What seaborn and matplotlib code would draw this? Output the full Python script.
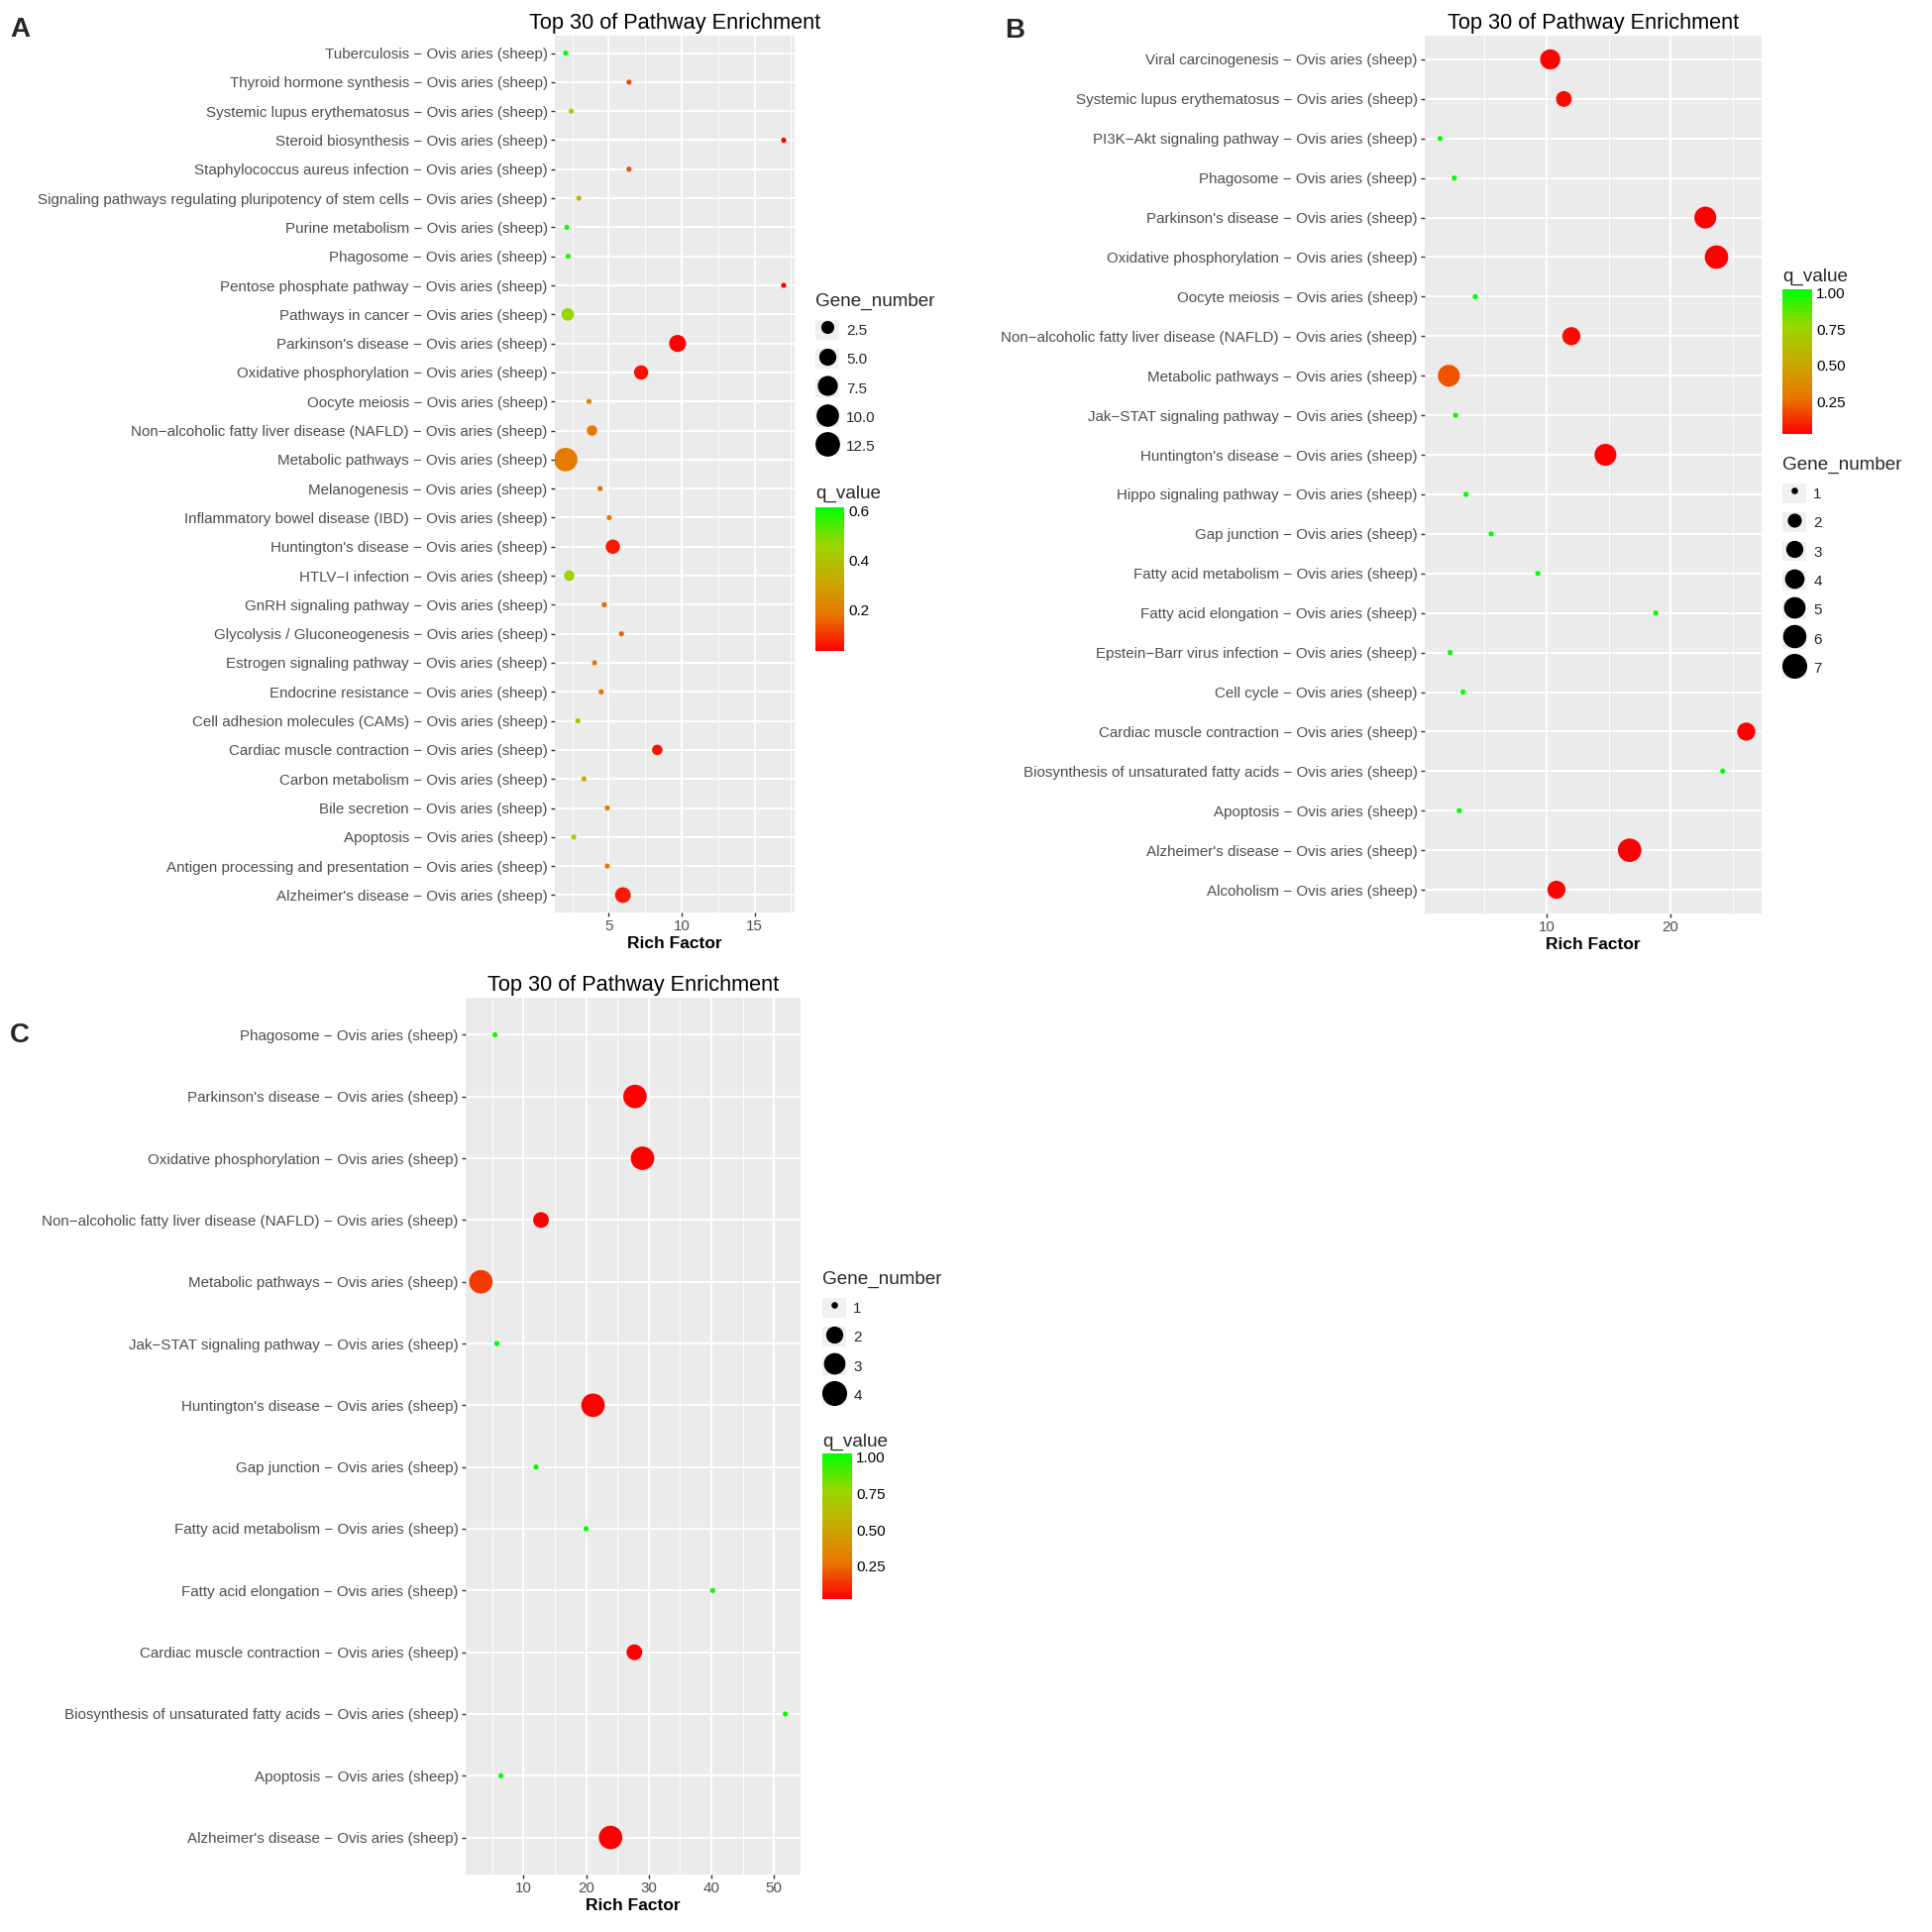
import numpy as np
import pandas as pd
import seaborn as sns
import matplotlib
matplotlib.use('Agg')
import matplotlib.pyplot as plt
from matplotlib.colors import LinearSegmentedColormap, Normalize
from matplotlib.cm import ScalarMappable
from matplotlib.lines import Line2D
from matplotlib.patches import Patch
from matplotlib.legend_handler import HandlerTuple
from matplotlib.ticker import MultipleLocator

SPECIES = ' − Ovis aries (sheep)'
TITLE = 'Top 30 of Pathway Enrichment'

# ---- panel A (rows listed top to bottom) ----
a_pathways = ['Tuberculosis', 'Thyroid hormone synthesis', 'Systemic lupus erythematosus',
              'Steroid biosynthesis', 'Staphylococcus aureus infection',
              'Signaling pathways regulating pluripotency of stem cells', 'Purine metabolism',
              'Phagosome', 'Pentose phosphate pathway', 'Pathways in cancer',
              "Parkinson's disease", 'Oxidative phosphorylation', 'Oocyte meiosis',
              'Non−alcoholic fatty liver disease (NAFLD)', 'Metabolic pathways', 'Melanogenesis',
              'Inflammatory bowel disease (IBD)', "Huntington's disease", 'HTLV−I infection',
              'GnRH signaling pathway', 'Glycolysis / Gluconeogenesis', 'Estrogen signaling pathway',
              'Endocrine resistance', 'Cell adhesion molecules (CAMs)', 'Cardiac muscle contraction',
              'Carbon metabolism', 'Bile secretion', 'Apoptosis',
              'Antigen processing and presentation', "Alzheimer's disease"]
a_rich_factor = [2.05, 6.39, 2.43, 17.0, 6.39, 2.95, 2.12, 2.22, 17.0, 2.19,
                 9.72, 7.22, 3.65, 3.85, 2.05, 4.41, 5.03, 5.28, 2.29, 4.69,
                 5.87, 4.03, 4.48, 2.88, 8.33, 3.30, 4.90, 2.60, 4.90, 5.97]
a_gene_number = [1, 1, 1, 1, 1, 1, 1, 1, 1, 3,
                 6, 4, 1, 2, 13, 1, 1, 4, 2, 1,
                 1, 1, 1, 1, 2, 1, 1, 1, 1, 5]
a_q_value = [0.60, 0.14, 0.47, 0.05, 0.14, 0.36, 0.58, 0.57, 0.05, 0.46,
             0.05, 0.07, 0.22, 0.19, 0.20, 0.18, 0.19, 0.08, 0.45, 0.17,
             0.16, 0.19, 0.18, 0.40, 0.07, 0.32, 0.19, 0.45, 0.19, 0.08]
a_size_breaks = [2.5, 5.0, 7.5, 10.0, 12.5]
a_q_ticks = [0.2, 0.4, 0.6]

# ---- panel B ----
b_pathways = ['Viral carcinogenesis', 'Systemic lupus erythematosus', 'PI3K−Akt signaling pathway',
              'Phagosome', "Parkinson's disease", 'Oxidative phosphorylation', 'Oocyte meiosis',
              'Non−alcoholic fatty liver disease (NAFLD)', 'Metabolic pathways',
              'Jak−STAT signaling pathway', "Huntington's disease", 'Hippo signaling pathway',
              'Gap junction', 'Fatty acid metabolism', 'Fatty acid elongation',
              'Epstein−Barr virus infection', 'Cell cycle', 'Cardiac muscle contraction',
              'Biosynthesis of unsaturated fatty acids', 'Apoptosis', "Alzheimer's disease",
              'Alcoholism']
b_rich_factor = [10.3, 11.4, 1.42, 2.57, 22.8, 23.7, 4.26, 12.0, 2.13, 2.67, 14.75,
                 3.51, 5.54, 9.3, 18.8, 2.23, 3.27, 26.1, 24.2, 2.97, 16.7, 10.8]
b_gene_number = [5, 3, 1, 1, 6, 7, 1, 4, 6, 1, 6,
                 1, 1, 1, 1, 1, 1, 4, 1, 1, 7, 4]
b_q_value = [0.06, 0.07, 1.0, 1.0, 0.05, 0.05, 1.0, 0.07, 0.22, 1.0, 0.05,
             1.0, 1.0, 1.0, 1.0, 1.0, 1.0, 0.06, 1.0, 1.0, 0.05, 0.06]
b_size_breaks = [1, 2, 3, 4, 5, 6, 7]
b_q_ticks = [0.25, 0.50, 0.75, 1.00]

# ---- panel C ----
c_pathways = ['Phagosome', "Parkinson's disease", 'Oxidative phosphorylation',
              'Non−alcoholic fatty liver disease (NAFLD)', 'Metabolic pathways',
              'Jak−STAT signaling pathway', "Huntington's disease", 'Gap junction',
              'Fatty acid metabolism', 'Fatty acid elongation', 'Cardiac muscle contraction',
              'Biosynthesis of unsaturated fatty acids', 'Apoptosis', "Alzheimer's disease"]
c_rich_factor = [5.45, 27.8, 29.0, 12.8, 3.2, 5.74, 21.1, 12.0, 20.0, 40.2, 27.7, 51.8, 6.4, 23.9]
c_gene_number = [1, 4, 4, 2, 4, 1, 4, 1, 1, 1, 2, 1, 1, 4]
c_q_value = [1.0, 0.05, 0.05, 0.05, 0.17, 1.0, 0.05, 1.0, 1.0, 1.0, 0.05, 1.0, 1.0, 0.05]
c_size_breaks = [1, 2, 3, 4]
c_q_ticks = [0.25, 0.50, 0.75, 1.00]

sns.set_theme(style='darkgrid', rc={'axes.facecolor': '#EBEBEB', 'grid.color': 'white'})
plt.rcParams['font.family'] = ['Liberation Sans', 'DejaVu Sans']

W = H = 1950
fig = plt.figure(figsize=(W / 100, H / 100), dpi=100)


def box(left, top, right, bottom):
    return [left / W, 1 - bottom / H, (right - left) / W, (bottom - top) / H]


# red -> green gradient like ggplot's scale_colour_gradient (Lab stops)
cmap = LinearSegmentedColormap.from_list('q', ['#FF0000', '#E87600', '#C8AB00', '#98D700', '#00FF00'])


def dot_size(v, lo, hi):
    # diameter in points, area scaled like ggplot scale_size
    t = (np.asarray(v, float) - lo) / (hi - lo)
    px = 1.5 + 3.7 * (1 + 5 * np.sqrt(t))
    return px * 0.72


def panel(rect, names, rich, genes, qval, major, minor):
    ax = fig.add_axes(box(*rect))
    df = pd.DataFrame({'pathway': [n + SPECIES for n in names], 'rich': rich,
                       'genes': genes, 'q': qval})
    glo, ghi = min(genes), max(genes)
    sizes = {g: float(dot_size(g, glo, ghi)) ** 2 for g in sorted(set(genes))}
    sns.scatterplot(data=df, x='rich', y='pathway', hue='q', size='genes', palette=cmap,
                    hue_norm=(min(qval), max(qval)), sizes=sizes, linewidth=0,
                    legend=False, ax=ax, zorder=3)
    pad = 0.05 * (max(rich) - min(rich))
    ax.set_xlim(min(rich) - pad, max(rich) + pad)
    ax.set_ylim(len(names) - 0.4, -0.6)
    ax.xaxis.set_major_locator(MultipleLocator(major))
    ax.xaxis.set_minor_locator(MultipleLocator(minor))
    ax.grid(which='major', color='white', lw=1.4)
    ax.grid(which='minor', axis='x', color='white', lw=0.7)
    ax.set_axisbelow(True)
    for s in ax.spines.values():
        s.set_visible(False)
    ax.tick_params(which='major', bottom=True, left=True, length=2.75, width=1.0,
                   color='#333333', labelcolor='#4D4D4D', labelsize=10.9, pad=2.5)
    ax.tick_params(which='minor', length=0)
    ax.set_ylabel('')
    ax.set_xlabel('Rich Factor', fontsize=12.5, fontweight='bold', color='black', labelpad=2)
    ax.set_title(TITLE, fontsize=15.7, color='black', pad=5)
    return ax


def size_legend(x, y, breaks, genes, fmt):
    lo, hi = min(genes), max(genes)
    handles = [(Patch(facecolor='#F0F0F0', edgecolor='none'),
                Line2D([], [], ls='', marker='o', color='black',
                       markersize=float(dot_size(b, lo, hi))))
               for b in breaks]
    labels = [fmt.format(b) for b in breaks]
    fig.legend(handles, labels, title='Gene_number', loc='upper left',
               bbox_to_anchor=(x / W, 1 - y / H), frameon=False,
               handler_map={tuple: HandlerTuple(ndivide=1, pad=0)},
               handlelength=1.6, handleheight=1.6, labelspacing=0.64, handletextpad=0.45,
               borderpad=0, borderaxespad=0, fontsize=11, title_fontsize=13.6,
               alignment='left')


def q_colorbar(rect, qval, ticks, fmt, title_y):
    cax = fig.add_axes(box(*rect))
    lo, hi = min(qval), max(qval)
    m = (hi - lo) / 38
    sm = ScalarMappable(norm=Normalize(lo - m, hi + m), cmap=cmap)
    cb = fig.colorbar(sm, cax=cax, ticks=ticks)
    cb.outline.set_visible(False)
    cax.grid(False)
    cax.set_yticklabels([fmt.format(t) for t in ticks])
    cax.tick_params(axis='y', direction='in', color='white', length=6, width=1,
                    left=True, right=True, labelleft=False, labelright=True,
                    labelsize=11, labelcolor='black', pad=3)
    fig.text(rect[0] / W, 1 - title_y / H, 'q_value', fontsize=13.6, ha='left', va='center')


# panel A
panel((560, 36, 802, 921), a_pathways, a_rich_factor, a_gene_number, a_q_value, 5, 2.5)
size_legend(823, 296, a_size_breaks, a_gene_number, '{:.1f}')
q_colorbar((823, 512, 852, 657), a_q_value, a_q_ticks, '{:.1f}', 498)

# panel B
panel((1438, 36, 1778, 922), b_pathways, b_rich_factor, b_gene_number, b_q_value, 10, 5)
size_legend(1799, 461, b_size_breaks, b_gene_number, '{:d}')
q_colorbar((1799, 292, 1829, 438), b_q_value, b_q_ticks, '{:.2f}', 279)

# panel C
panel((470, 1007, 808, 1892), c_pathways, c_rich_factor, c_gene_number, c_q_value, 10, 5)
size_legend(830, 1283, c_size_breaks, c_gene_number, '{:d}')
q_colorbar((830, 1467, 860, 1614), c_q_value, c_q_ticks, '{:.2f}', 1455)

for letter, (px, py) in zip('ABC', [(10, 30), (1014, 31), (10, 1045)]):
    fig.text(px / W, 1 - py / H, letter, fontsize=20, fontweight='bold', ha='left', va='center')

fig.savefig('out.png', dpi=100, facecolor='white')
